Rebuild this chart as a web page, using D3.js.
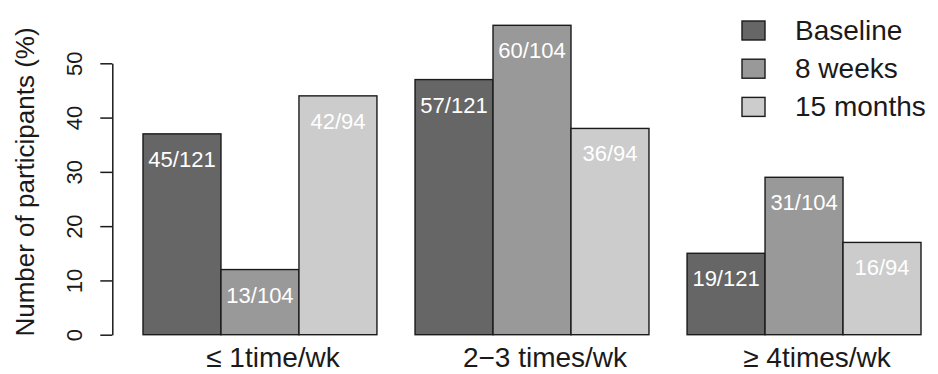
<!DOCTYPE html>
<html>
<head>
<meta charset="utf-8">
<script src="https://cdn.jsdelivr.net/npm/d3@7"></script>
<style>
  html, body { margin: 0; padding: 0; background: #fff; }
  svg { display: block; font-family: "Liberation Sans", Arial, Helvetica, sans-serif; }
</style>
</head>
<body>
<svg id="chart" width="938" height="374"></svg>
<script>
const categories = ["\u2264 1time/wk", "2\u22123 times/wk", "\u2265 4times/wk"];
const series = ["Baseline", "8 weeks", "15 months"];
const baseline = [37, 47, 15];
const weeks8 = [12, 57, 29];
const months15 = [44, 38, 17];
const barLabels = [
  ["45/121", "57/121", "19/121"],
  ["13/104", "60/104", "31/104"],
  ["42/94", "36/94", "16/94"]
];
const yTicks = [0, 10, 20, 30, 40, 50];
const colors = ["#666666", "#999999", "#cccccc"];

const values = [baseline, weeks8, months15];
const svg = d3.select("#chart");

const y = d3.scaleLinear().domain([0, 50]).range([334.7, 63.3]);
const x0 = d3.scaleBand().domain(categories).range([143, 921]).paddingInner(0.14).paddingOuter(0);
const x1 = d3.scaleBand().domain(series).range([0, x0.bandwidth()]).padding(0);
const color = d3.scaleOrdinal().domain(series).range(colors);

// bars
const data = [];
categories.forEach((c, ci) => {
  series.forEach((s, si) => {
    data.push({ cat: c, ser: s, v: values[si][ci], label: barLabels[si][ci] });
  });
});

const g = svg.append("g");
g.selectAll("rect.bar").data(data).enter().append("rect")
  .attr("class", "bar")
  .attr("x", d => x0(d.cat) + x1(d.ser))
  .attr("y", d => y(d.v))
  .attr("width", x1.bandwidth())
  .attr("height", d => y(0) - y(d.v))
  .attr("fill", d => color(d.ser))
  .attr("stroke", "#1a1a1a")
  .attr("stroke-width", 1.4);

g.selectAll("text.bl").data(data).enter().append("text")
  .attr("class", "bl")
  .attr("x", d => x0(d.cat) + x1(d.ser) + x1.bandwidth() / 2)
  .attr("y", d => y(d.v) + 33)
  .attr("text-anchor", "middle")
  .attr("font-size", 22)
  .attr("fill", "#ffffff")
  .text(d => d.label);

// y axis
const yAxis = d3.axisLeft(y).tickValues(yTicks).tickSize(12).tickSizeOuter(0).tickPadding(0);
const ya = svg.append("g").attr("transform", "translate(112.3,0)").call(yAxis);
ya.select(".domain").attr("stroke", "#1a1a1a").attr("stroke-width", 1.5);
ya.selectAll(".tick line").attr("stroke", "#1a1a1a").attr("stroke-width", 1.5);
ya.selectAll(".tick text")
  .attr("font-size", 22)
  .attr("fill", "#1a1a1a")
  .attr("text-anchor", "middle")
  .attr("x", 0).attr("dy", 0)
  .attr("transform", "translate(-30,0) rotate(-90)")
  .attr("y", 0);

svg.append("text")
  .attr("transform", "translate(34,182) rotate(-90)")
  .attr("text-anchor", "middle")
  .attr("font-size", 26)
  .attr("fill", "#1a1a1a")
  .text("Number of participants (%)");

// x labels
svg.append("g").selectAll("text").data(categories).enter().append("text")
  .attr("x", d => x0(d) + x0.bandwidth() / 2 + 13)
  .attr("y", 367)
  .attr("text-anchor", "middle")
  .attr("font-size", 28)
  .attr("fill", "#1a1a1a")
  .text(d => d);

// legend
const lg = svg.append("g").attr("transform", "translate(742,0)");
const rows = lg.selectAll("g").data(series).enter().append("g")
  .attr("transform", (d, i) => `translate(0,${21 + i * 38.2})`);
rows.append("rect")
  .attr("width", 23).attr("height", 19)
  .attr("fill", d => color(d))
  .attr("stroke", "#1a1a1a").attr("stroke-width", 1.4);
rows.append("text")
  .attr("x", 53).attr("y", 18.5)
  .attr("font-size", 28)
  .attr("fill", "#1a1a1a")
  .text(d => d);
</script>
</body>
</html>
